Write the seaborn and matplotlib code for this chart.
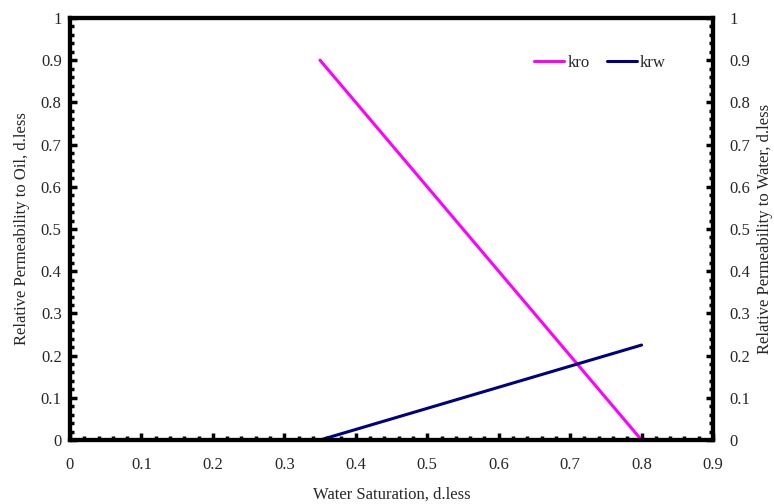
import matplotlib
matplotlib.use("Agg")
import matplotlib.pyplot as plt
import seaborn as sns
import pandas as pd
import numpy as np
from matplotlib.ticker import MultipleLocator

sw_kro = [0.35, 0.8]
kro = [0.9, 0.0]
sw_krw = [0.35, 0.8]
krw = [0.0, 0.225]
series = ["kro", "krw"]
colors = ["#FF00FF", "#000080"]
x_ticks = [0, 0.1, 0.2, 0.3, 0.4, 0.5, 0.6, 0.7, 0.8, 0.9]
x_labels = ["0", "0.1", "0.2", "0.3", "0.4", "0.5", "0.6", "0.7", "0.8", "0.9"]
y_ticks = [0, 0.1, 0.2, 0.3, 0.4, 0.5, 0.6, 0.7, 0.8, 0.9, 1.0]
y_labels = ["0", "0.1", "0.2", "0.3", "0.4", "0.5", "0.6", "0.7", "0.8", "0.9", "1"]

sns.set_style("white")
plt.rcParams['font.family'] = ['Liberation Serif', 'DejaVu Serif']
FS = 12

df = pd.DataFrame({
    "Sw": sw_kro + sw_krw,
    "kr": kro + krw,
    "curve": ["kro"] * len(sw_kro) + ["krw"] * len(sw_krw),
})

fig = plt.figure(figsize=(7.74, 5.04), dpi=100)
ax = fig.add_axes([70 / 774, 64 / 504, 643 / 774, 422 / 504])
sns.lineplot(data=df, x="Sw", y="kr", hue="curve", palette=dict(zip(series, colors)),
             linewidth=2.2, ax=ax, legend=True)
ax.set_xlim(0, 0.9)
ax.set_ylim(0, 1)
ax.set_xticks(x_ticks)
ax.set_xticklabels(x_labels)
ax.set_yticks(y_ticks)
ax.set_yticklabels(y_labels)
ax.xaxis.set_minor_locator(MultipleLocator(0.02))
ax.yaxis.set_minor_locator(MultipleLocator(0.02))
ax.tick_params(axis="x", which="both", bottom=True, top=False, direction="in", color="black")
ax.tick_params(axis="y", which="both", left=True, right=False, direction="in", color="black")
ax.tick_params(which="major", length=5, width=2.5, labelsize=FS)
ax.tick_params(which="minor", length=3, width=2.5)
ax.tick_params(axis="x", which="major", pad=12)
ax.tick_params(axis="y", which="major", pad=6)
for s in ax.spines.values():
    s.set_linewidth(3)
    s.set_color("black")
ax.set_xlabel("Water Saturation, d.less", fontsize=FS, labelpad=10)
ax.set_ylabel("Relative Permeability to Oil, d.less", fontsize=FS, labelpad=8)

ax2 = ax.twinx()
ax2.set_ylim(0, 1)
ax2.set_yticks(y_ticks)
ax2.set_yticklabels(y_labels)
ax2.yaxis.set_minor_locator(MultipleLocator(0.02))
ax2.tick_params(axis="y", which="both", right=True, left=False, direction="in", color="black")
ax2.tick_params(which="major", length=5, width=2.5, labelsize=FS, pad=12)
ax2.tick_params(which="minor", length=3, width=2.5)
for s in ax2.spines.values():
    s.set_linewidth(3)
    s.set_color("black")
ax2.set_ylabel("Relative Permeability to Water, d.less", fontsize=FS, labelpad=5)

h, l = ax.get_legend_handles_labels()
ax.legend(h, l, loc="center right", bbox_to_anchor=(0.937, 0.893), ncol=2, frameon=False,
          fontsize=FS, handlelength=1.8, handletextpad=0.2, columnspacing=1.0,
          borderaxespad=0)

fig.savefig("out.png", dpi=100)
